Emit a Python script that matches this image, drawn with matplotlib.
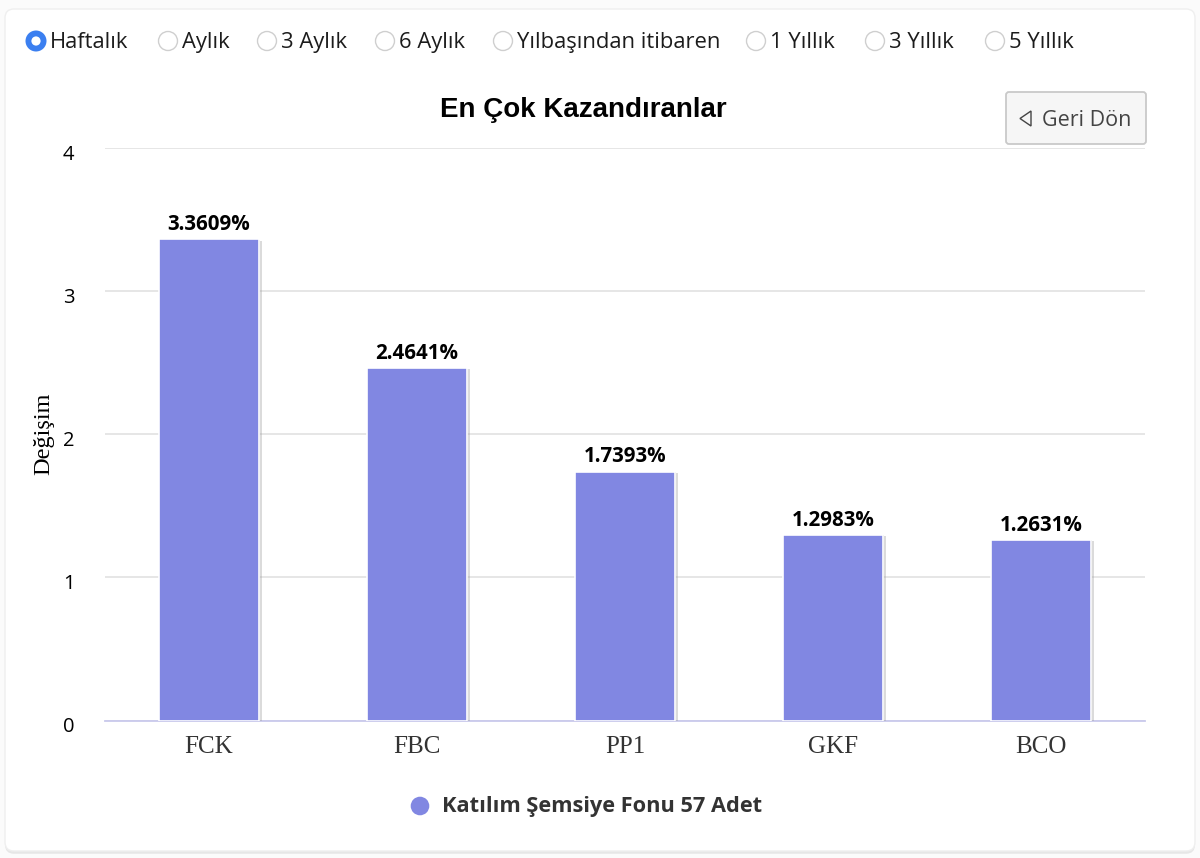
#En Cok Kazandiranlar bar chart
import numpy as np

import matplotlib
matplotlib.use("Agg")
import matplotlib.pyplot as plt
import matplotlib.patheffects as pe
from matplotlib.patches import FancyBboxPatch, Circle, Polygon
from matplotlib.transforms import ScaledTranslation

funds = ["FCK","FBC","PP1","GKF","BCO"]
changes = [3.3609,2.4641,1.7393,1.2983,1.2631]
yTicks = [0,1,2,3,4]
periods = ["Haftalık","Aylık","3 Aylık","6 Aylık","Yılbaşından itibaren","1 Yıllık","3 Yıllık","5 Yıllık"]
title = "En Çok Kazandıranlar"
yLabel = "Değişim"
seriesName = "Katılım Şemsiye Fonu 57 Adet"
backLabel = "Geri Dön"

barCol = "#8187e2"
uiFont = "Open Sans"
W,H = 1200,858

fig = plt.figure(figsize=(W/100,H/100),dpi=100,facecolor="#fbfbfb")

#Overlay in pixel coords for the page furniture
AxP = fig.add_axes([0,0,1,1],zorder=0)
AxP.set_xlim(0,W)
AxP.set_ylim(H,0)
AxP.axis("off")

card = FancyBboxPatch((5,9),1190,842,boxstyle="round,pad=0,rounding_size=9",
	fc="white",ec="#efefef",lw=1,
	path_effects=[pe.SimplePatchShadow(offset=(0,-2),shadow_rgbFace="#aaaaaa",alpha=0.25),pe.Normal()])
AxP.add_patch(card)

#Radio row
xRadio = [36,168,267,385,503,756,875,995]
for i,(xR,s) in enumerate(zip(xRadio,periods)):
	if i == 0:
		AxP.add_patch(Circle((xR,41),10.5,fc="#3b7ff0",ec="none"))
		AxP.add_patch(Circle((xR,41),4.6,fc="white",ec="none"))
	else:
		AxP.add_patch(Circle((xR,41),9.5,fc="white",ec="#cfcfcf",lw=1))
	AxP.text(xR+14,42.5,s,fontsize=15.8,family=uiFont,color="#1c1c1c",ha="left",va="center")

#Back button
btn = FancyBboxPatch((1006,92),140,52,boxstyle="round,pad=0,rounding_size=3",
	fc="#f6f6f6",ec="#c9c9c9",lw=1.3,zorder=5)
AxP.add_patch(btn)
AxP.add_patch(Polygon([[1031,111],[1031,126],[1020,118.5]],closed=True,fc="none",ec="#444444",lw=1,zorder=6))
AxP.text(1042,120,backLabel,fontsize=15.5,family=uiFont,color="#444444",ha="left",va="center",zorder=6)

AxP.text(583.5,110,title,fontsize=20,family="Liberation Sans",weight="bold",color="black",ha="center",va="center")

#Legend
AxP.add_patch(Circle((420,806),9.3,fc=barCol,ec="none"))
AxP.text(442,806.5,seriesName,fontsize=15.7,family=uiFont,weight="bold",color="#333333",ha="left",va="center")

#Main chart
Ax = fig.add_axes([105/W,1-720.5/H,1040/W,572.5/H],zorder=1)
Ax.patch.set_alpha(0)
x = np.arange(len(funds))
bars = Ax.bar(x,changes,width=0.48,color=barCol,edgecolor="white",linewidth=1.2,zorder=3)
for b in bars:
	b.set_path_effects([pe.SimplePatchShadow(offset=(2,-1),shadow_rgbFace="#999999",alpha=0.35),
		pe.SimplePatchShadow(offset=(1,-0.5),shadow_rgbFace="#888888",alpha=0.4),pe.Normal()])
	Ax.annotate("%.4f%%"%(b.get_height()),(b.get_x()+b.get_width()/2,b.get_height()),
		xytext=(0,3),textcoords="offset points",ha="center",va="bottom",
		fontsize=14.8,family=uiFont,weight="bold",color="black",zorder=4)

Ax.set_xlim(-0.5,4.5)
Ax.set_ylim(0,4)
Ax.set_yticks(yTicks)
Ax.set_xticks(x)
Ax.set_xticklabels(funds,family="Liberation Serif",fontsize=18,color="#333333")
Ax.tick_params(axis="x",length=0,pad=11.5)
Ax.tick_params(axis="y",length=0,pad=22)
tickShift = ScaledTranslation(0,-4/100,fig.dpi_scale_trans)
for lab in Ax.get_yticklabels():
	lab.set_family(uiFont)
	lab.set_fontsize(14.5)
	lab.set_color("black")
	lab.set_transform(lab.get_transform()+tickShift)
Ax.grid(axis="y",color="#e2e2e2",lw=1.2,zorder=0)
Ax.set_axisbelow(True)
for s in ["top","right","left"]:
	Ax.spines[s].set_visible(False)
Ax.spines["bottom"].set_color("#c9c9ec")
Ax.spines["bottom"].set_linewidth(1.3)
Ax.set_ylabel(yLabel,family="Liberation Serif",fontsize=17.5,color="black",labelpad=0)
Ax.yaxis.set_label_coords((54-105)/1040,(720.5-434)/572.5)

plt.savefig("out.png",dpi=100,facecolor=fig.get_facecolor())
